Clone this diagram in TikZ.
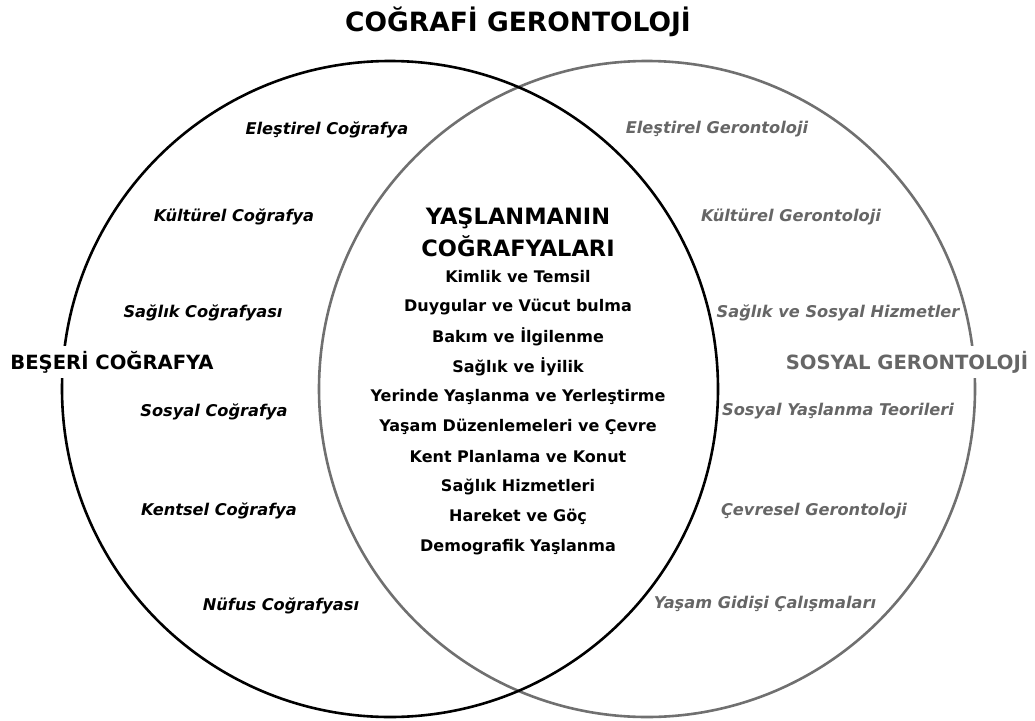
\documentclass[tikz,border=0pt]{standalone}
\usepackage{fontspec}
\setmainfont{DejaVu Sans}
\usepackage{xcolor}
\usepackage{tikz}

\definecolor{gerogray}{RGB}{102,102,102}
\definecolor{ringgray}{RGB}{112,112,112}

\tikzset{
  title/.style={font=\fontsize{26.5}{30}\selectfont\bfseries},
  fieldhead/.style={font=\fontsize{19.6}{22}\selectfont\bfseries,fill=white,inner xsep=1pt,inner ysep=5pt},
  topic/.style={font=\fontsize{16.2}{19}\selectfont\bfseries\itshape},
  agehead/.style={font=\fontsize{22.5}{26}\selectfont\bfseries},
  ageitem/.style={font=\fontsize{16}{19}\selectfont\bfseries}
}

\begin{document}
\begin{tikzpicture}[x=1pt,y=-1pt]
  \useasboundingbox (0,0) rectangle (1035,720);

  % Circles
  \coordinate (geo) at (390,389);
  \coordinate (ger) at (647,389);
  \draw[line width=2.6pt,color=ringgray] (ger) circle (328);
  \draw[line width=2.6pt,color=black] (geo) circle (328);

  % Title
  \node[title] (main) at (518,22) {COĞRAFİ GERONTOLOJİ};

  % Left side
  \node[fieldhead] (beseri) at (112,362) {BEŞERİ COĞRAFYA};
  \node[topic] (geo1) at (327,130) {Eleştirel Coğrafya};
  \node[topic] (geo2) at (234,217) {Kültürel Coğrafya};
  \node[topic] (geo3) at (203,313) {Sağlık Coğrafyası};
  \node[topic] (geo4) at (214,412) {Sosyal Coğrafya};
  \node[topic] (geo5) at (219,511) {Kentsel Coğrafya};
  \node[topic] (geo6) at (281,606) {Nüfus Coğrafyası};

  % Right side
  \node[fieldhead,text=gerogray] (sosyal) at (907,362) {SOSYAL GERONTOLOJİ};
  \node[topic,text=gerogray] (ger1) at (717,129) {Eleştirel Gerontoloji};
  \node[topic,text=gerogray] (ger2) at (791,217) {Kültürel Gerontoloji};
  \node[topic,text=gerogray] (ger3) at (838,313) {Sağlık ve Sosyal Hizmetler};
  \node[topic,text=gerogray] (ger4) at (838,411) {Sosyal Yaşlanma Teorileri};
  \node[topic,text=gerogray] (ger5) at (814,511) {Çevresel Gerontoloji};
  \node[topic,text=gerogray] (ger6) at (765,604) {Yaşam Gidişi Çalışmaları};

  % Overlap
  \node[agehead] (age1) at (518,218) {YAŞLANMANIN};
  \node[agehead] (age2) at (518,246) {COĞRAFYALARI};
  \foreach \t [count=\i] in {Kimlik ve Temsil,Duygular ve Vücut bulma,Bakım ve İlgilenme,Sağlık ve İyilik,Yerinde Yaşlanma ve Yerleştirme,Yaşam Düzenlemeleri ve Çevre,Kent Planlama ve Konut,Sağlık Hizmetleri,Hareket ve Göç,Demografik Yaşlanma}
    \node[ageitem] (item\i) at (518,247+30*\i) {\t};
\end{tikzpicture}
\end{document}
